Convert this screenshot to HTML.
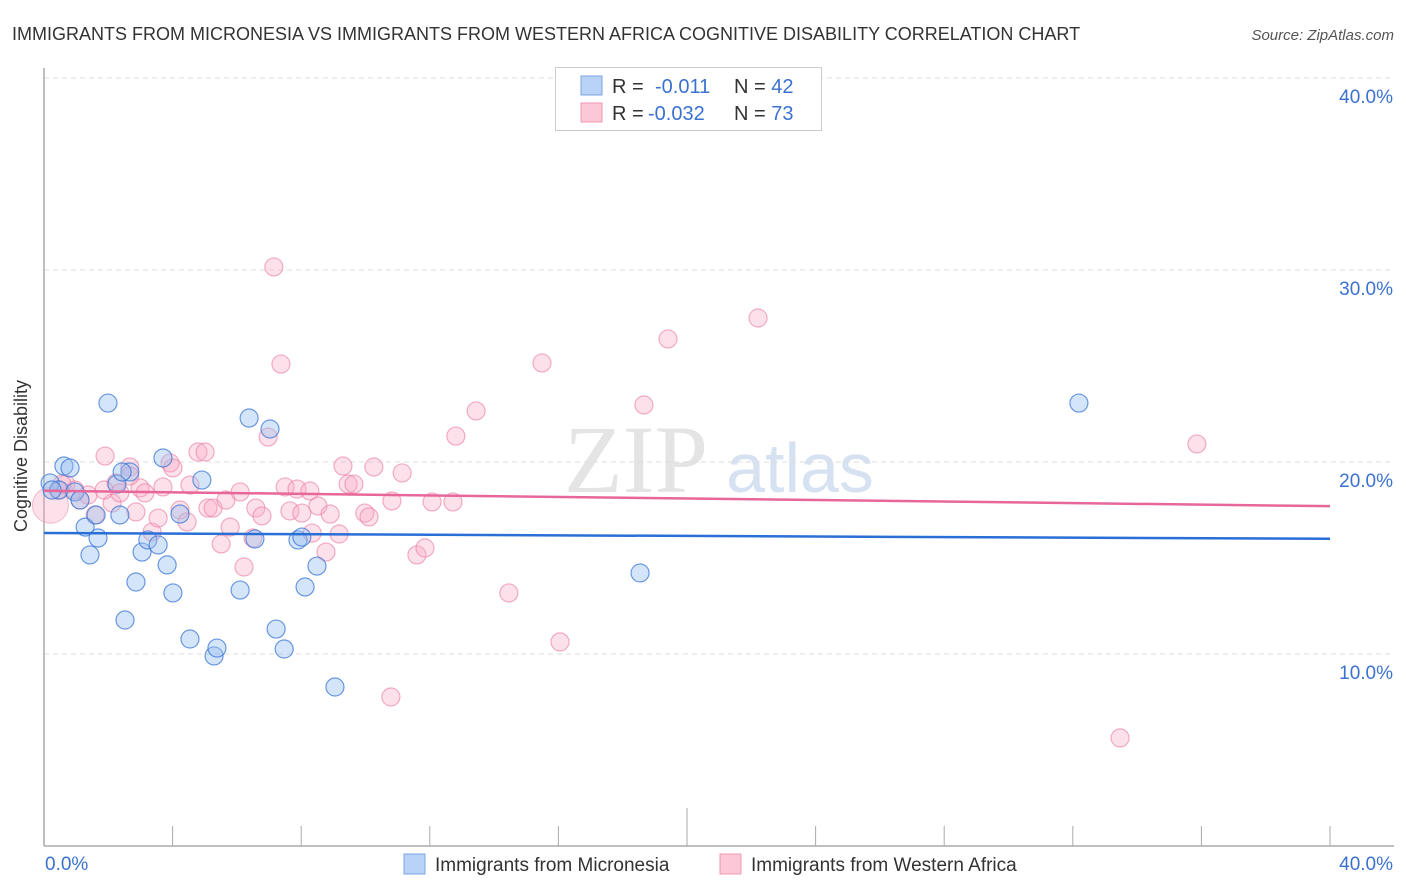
<!DOCTYPE html>
<html><head><meta charset="utf-8">
<style>
body{margin:0;background:#fff;font-family:"Liberation Sans",sans-serif;}
svg{display:block}
</style></head>
<body>
<svg id="chart" width="1406" height="892" xmlns="http://www.w3.org/2000/svg">
<text x="12" y="40" font-size="18" fill="#333">IMMIGRANTS FROM MICRONESIA VS IMMIGRANTS FROM WESTERN AFRICA COGNITIVE DISABILITY CORRELATION CHART</text>
<text x="1394" y="40" font-size="15" fill="#555" font-style="italic" text-anchor="end">Source: ZipAtlas.com</text>
<text x="636" y="492" font-size="96" fill="#e4e4e4" text-anchor="middle" font-family="Liberation Serif, serif">ZIP</text>
<text x="800" y="492" font-size="70" fill="#d6e2f2" text-anchor="middle">atlas</text>
<g id="grid"></g>
<g id="axes"></g>
<g id="pink"></g>
<g id="blue"></g>
<g id="trends"></g>
<text x="27" y="456" font-size="18" fill="#333" text-anchor="middle" transform="rotate(-90 27 456)">Cognitive Disability</text>
<g>
<rect x="555.5" y="67.5" width="266" height="63" fill="#fff" stroke="#ccc"/>
<rect x="581" y="76" width="21" height="19" fill="#b8d3f5" stroke="#7aa6e0"/>
<rect x="581" y="103" width="21" height="19" fill="#fcc7d6" stroke="#ee9ab3"/>
<text x="612" y="93" font-size="20" fill="#333">R = <tspan fill="#3b72d0" x="655">-0.011</tspan><tspan fill="#333" x="734">N = </tspan><tspan fill="#3b72d0">42</tspan></text>
<text x="612" y="120" font-size="20" fill="#333">R = <tspan fill="#3b72d0" x="648">-0.032</tspan><tspan fill="#333" x="734">N = </tspan><tspan fill="#3b72d0">73</tspan></text>
</g>
<g>
<rect x="404" y="854" width="21" height="20" fill="#b8d3f5" stroke="#7aa6e0"/>
<text x="435" y="871" font-size="19" fill="#333">Immigrants from Micronesia</text>
<rect x="720" y="854" width="21" height="20" fill="#fcc7d6" stroke="#ee9ab3"/>
<text x="751" y="871" font-size="19" fill="#333">Immigrants from Western Africa</text>
</g>
</svg>
<script>
const xMin=0,xMax=40,yMin=0,yMax=40;
const yTicks=[10,20,30,40];
const yTickLabels=["10.0%","20.0%","30.0%","40.0%"];
const xTickLabels=["0.0%","40.0%"];
const bluePx=[[50,483],[64,466],[70,468],[59,490],[75,492],[80,500],[85,527],[90,555],[98,538],[96,515],[108,403],[117,484],[120,515],[125,620],[130,472],[136,582],[142,552],[148,540],[158,545],[163,458],[167,565],[173,593],[180,514],[190,639],[202,480],[214,656],[217,648],[240,590],[249,418],[255,539],[270,429],[276,629],[284,649],[298,540],[302,537],[305,587],[317,566],[335,687],[640,573],[1079,403],[52,490],[122,472]];
const pinkPx=[[58,490],[66,484],[75,490],[80,500],[88,495],[95,515],[105,456],[112,503],[116,483],[120,493],[130,467],[140,488],[136,512],[145,493],[152,532],[158,518],[163,487],[170,463],[173,468],[180,510],[187,522],[190,485],[198,452],[205,452],[208,508],[213,508],[221,544],[226,500],[230,527],[240,492],[244,567],[253,538],[256,508],[262,516],[268,437],[274,267],[281,364],[285,487],[290,511],[297,489],[302,513],[310,491],[312,533],[318,506],[326,552],[330,514],[339,534],[343,466],[348,484],[354,484],[365,513],[369,517],[374,467],[392,501],[402,473],[417,555],[425,548],[432,502],[453,502],[456,436],[476,411],[509,593],[542,363],[560,642],[644,405],[668,339],[758,318],[1120,738],[1197,444],[391,697],[104,490],[130,476],[62,484]];
// data values (percent)
const blueX=bluePx.map(p=>+((p[0]-44)/1286*40).toFixed(2));
const blueY=bluePx.map(p=>+((846-p[1])/19.2).toFixed(2));
const pinkX=pinkPx.map(p=>+((p[0]-44)/1286*40).toFixed(2));
const pinkY=pinkPx.map(p=>+((846-p[1])/19.2).toFixed(2));
const bigPinkX=[0.2], bigPinkY=[17.75];
const blueTrend=[16.3,16.0];
const pinkTrend=[18.5,17.7];

const X0=44,X1=1330,Y0=846,Y1=78;
const sx=v=>X0+(v-xMin)/(xMax-xMin)*(X1-X0);
const sy=v=>Y0-(v-yMin)/(yMax-yMin)*(Y0-Y1);
const NS="http://www.w3.org/2000/svg";
function mk(tag,attrs,parent){const e=document.createElementNS(NS,tag);for(const k in attrs)e.setAttribute(k,attrs[k]);document.getElementById(parent).appendChild(e);return e;}

yTicks.forEach((t,i)=>{
  const g=mk('line',{x1:X0,x2:1394,y1:sy(t),y2:sy(t),stroke:'#ddd','stroke-dasharray':'5,4'},'grid');
  
  
  const l=mk('text',{x:1393,y:sy(t)+25,'font-size':19,fill:'#3b72d0','text-anchor':'end'},'grid');
  l.textContent=yTickLabels[i];
  
  
});
const ax=mk('line',{x1:X0,x2:1394,y1:Y0,y2:Y0,stroke:'#aaa','stroke-width':1.5},'axes');


const ay=mk('line',{x1:X0,x2:X0,y1:68,y2:Y0,stroke:'#aaa','stroke-width':1.5},'axes');


for(let i=1;i<=10;i++){
  const x=sx(i*4);
  const tk=mk('line',{x1:x,x2:x,y1:Y0,y2:i==5?808:826,stroke:'#aaa'},'axes');
  
  
}
const xl0=mk('text',{x:45,y:870,'font-size':19,fill:'#3b72d0'},'axes');
xl0.textContent=xTickLabels[0];


const xl1=mk('text',{x:1393,y:870,'font-size':19,fill:'#3b72d0','text-anchor':'end'},'axes');
xl1.textContent=xTickLabels[1];



bigPinkX.forEach((v,i)=>{
  const c=mk('circle',{cx:sx(v),cy:sy(bigPinkY[i]),r:18,fill:'rgba(248,170,195,0.35)',stroke:'rgba(235,130,165,0.5)'},'pink');
  
  
});
pinkX.forEach((v,i)=>{
  const c=mk('circle',{cx:sx(v),cy:sy(pinkY[i]),r:9,fill:'rgba(248,170,195,0.35)',stroke:'rgba(235,130,165,0.65)','stroke-width':1.2},'pink');
  
  
});
blueX.forEach((v,i)=>{
  const c=mk('circle',{cx:sx(v),cy:sy(blueY[i]),r:9,fill:'rgba(150,190,240,0.4)',stroke:'rgba(60,120,215,0.75)','stroke-width':1.2},'blue');
  
  
});
const tb=mk('line',{x1:sx(0),x2:sx(40),y1:sy(blueTrend[0]),y2:sy(blueTrend[1]),stroke:'#2a6fd6','stroke-width':2.5},'trends');


const tp=mk('line',{x1:sx(0),x2:sx(40),y1:sy(pinkTrend[0]),y2:sy(pinkTrend[1]),stroke:'#e8679a','stroke-width':2.5},'trends');


</script>
</body></html>
